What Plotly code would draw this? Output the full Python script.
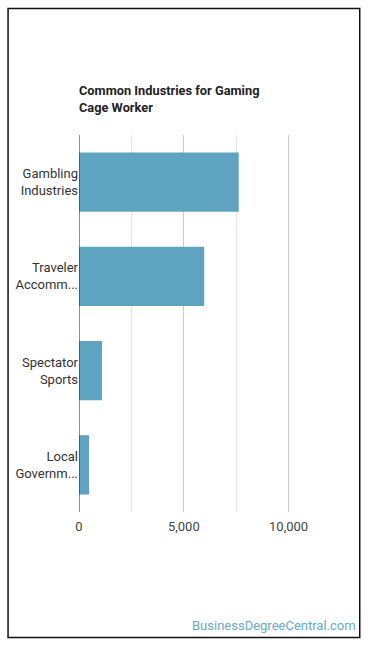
import plotly.graph_objects as go

categories = ["Gambling<br>Industries", "Traveler<br>Accomm...", "Spectator<br>Sports", "Local<br>Governm..."]
values = [7620, 5975, 1100, 480]
tick_vals = [0, 5000, 10000]
tick_text = ["0", "5,000", "10,000"]

L, R, T, B = 79.3, 340.8, 135, 512
W, H = 370, 648
pw, ph = R - L, B - T

def px(x):
    return (x - L) / pw

def py(y):
    return (B - y) / ph

fig = go.Figure(go.Bar(
    x=values, y=categories, orientation="h",
    marker=dict(color="#5ea4c1", line=dict(width=0)),
    hoverinfo="skip",
))

fig.update_layout(
    width=W, height=H,
    margin=dict(l=L, r=W - R, t=T, b=H - B, pad=0),
    paper_bgcolor="white", plot_bgcolor="white",
    font=dict(family="Roboto, Arial, sans-serif", size=13, color="#333"),
    bargap=0.37,
    showlegend=False,
    xaxis=dict(
        range=[0, 12500], tickvals=tick_vals, ticktext=tick_text,
        showgrid=True, gridcolor="#cccccc", gridwidth=1,
        minor=dict(tickvals=[2500, 7500], showgrid=True, gridcolor="#e4e4e4", gridwidth=1),
        zeroline=False, showline=False, ticks="", ticklabelstandoff=5,
        tickfont=dict(size=13, color="#444"), fixedrange=True,
    ),
    yaxis=dict(
        categoryorder="array", categoryarray=categories[::-1],
        showgrid=False, zeroline=False, showline=False, ticks="",
        tickfont=dict(size=13, color="#333"), fixedrange=True,
    ),
    shapes=[
        dict(type="line", xref="x", yref="paper", x0=0, x1=0, y0=0, y1=1,
             line=dict(color="#222", width=1)),
        dict(type="rect", xref="paper", yref="paper",
             x0=px(8.5), x1=px(359.5), y0=py(637.5), y1=py(8.5),
             line=dict(color="#111", width=1.5), fillcolor="rgba(0,0,0,0)", layer="above"),
    ],
    annotations=[
        dict(text="<b>Common Industries for Gaming<br>Cage Worker</b>", xref="paper", yref="paper",
             x=px(77), y=py(81.5), xanchor="left", yanchor="top", align="left", showarrow=False,
             font=dict(size=12.8, color="#222", family="Roboto, Arial, sans-serif")),
        dict(text="BusinessDegreeCentral.com", xref="paper", yref="paper",
             x=px(358), y=py(625), xanchor="right", yanchor="middle", showarrow=False,
             font=dict(size=13, color="#6aaac2", family="Roboto, Arial, sans-serif")),
    ],
)

fig.write_html("out.html", config={"displayModeBar": False},
               post_script="document.body.style.margin='0';document.body.style.overflow='hidden';")
